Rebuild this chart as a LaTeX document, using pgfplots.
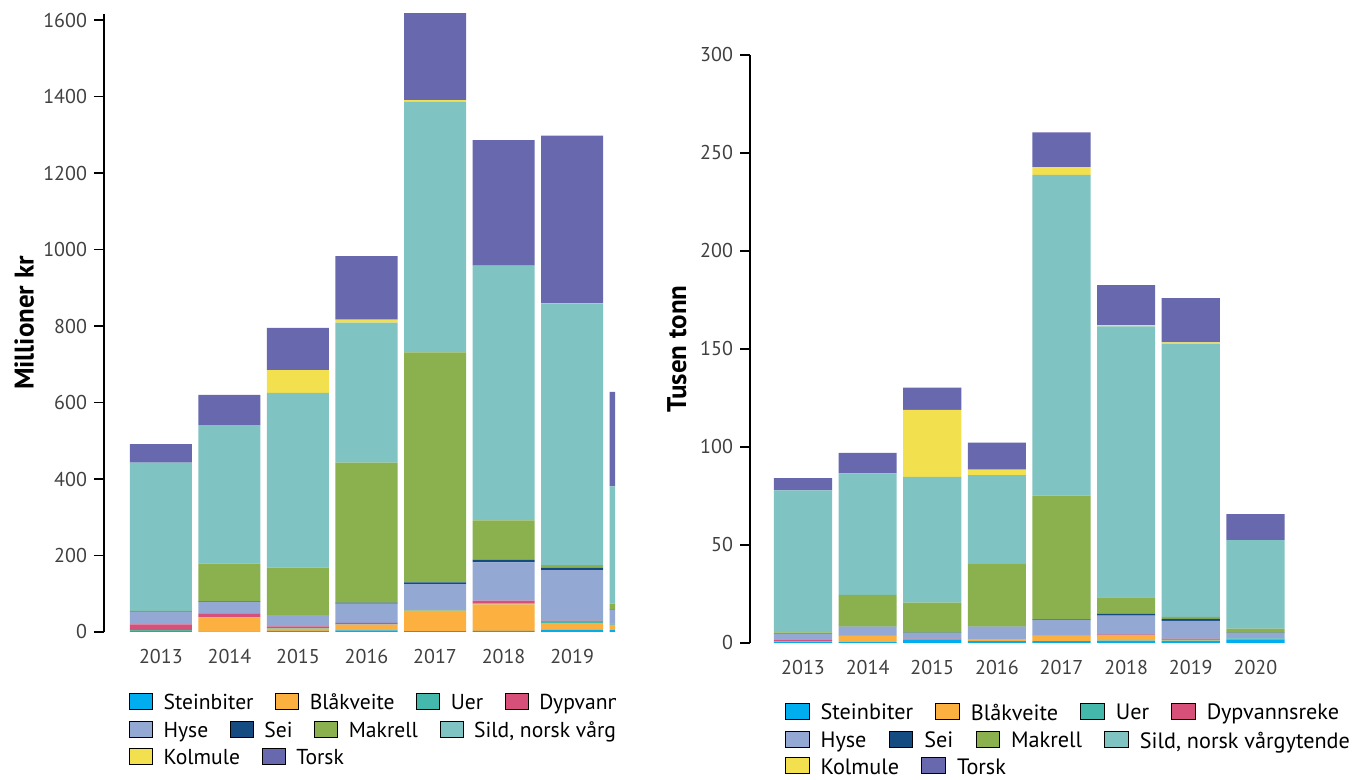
\documentclass[border=0pt]{standalone}
\usepackage{fontspec}
\setmainfont{PT Sans}
\usepackage{pgfplots}
\usepackage{pgfplotstable}
\pgfplotsset{compat=1.18}

\definecolor{cSt}{HTML}{00AEEF}
\definecolor{cBl}{HTML}{FBB040}
\definecolor{cUer}{HTML}{45B8AC}
\definecolor{cDyp}{HTML}{D6507A}
\definecolor{cHyse}{HTML}{93A9D3}
\definecolor{cSei}{HTML}{144B80}
\definecolor{cMak}{HTML}{8BB14E}
\definecolor{cSild}{HTML}{7FC4C2}
\definecolor{cKol}{HTML}{F2E04E}
\definecolor{cTorsk}{HTML}{6768AD}

% Millioner kr
\pgfplotstableread{
x St Bl Uer Dyp Hyse Sei Mak Sild Kol Torsk
0 2 1 2 15 32 1 2 388 0 48
1 1 37 1 10 30 1 99 362 0 79
2 3 6 1 5 29 0 124 457 60 110
3 4 15 1 4 50 3 366 366 8 166
4 2 54 1 0 68 5 601 655 5 249
5 3 69 3 7 100 7 103 666 0 328
6 6 16 7 1 132 6 7 684 1 438
7 5 13 2 2 35 1 16 307 0 247
}\verdi

% Tusen tonn
\pgfplotstableread{
x St Bl Uer Dyp Hyse Sei Mak Sild Kol Torsk
0 0.4 0.2 0.2 0.7 3.1 0.1 0.7 72.5 0 6.2
1 0.5 3.1 0.1 0.1 4.5 0.1 16.2 62.0 0 10.4
2 1.8 0.2 0.1 0.1 3.0 0.1 15.3 64.1 34.2 11.4
3 1.0 0.8 0.1 0.1 6.3 0.1 31.8 45.4 2.9 13.7
4 1.0 2.5 0.2 0 8.0 0.4 63.1 163.6 4.0 17.7
5 1.2 2.6 0.4 0.2 9.6 0.8 8.5 138.3 0.6 20.4
6 0.9 0.3 0.9 0.1 9.1 1.0 1.0 139.5 0.6 22.5
7 1.8 0.2 0.3 0 2.9 0.1 2.0 45.2 0 13.3
}\mengde

\pgfplotsset{
  mainax/.style={
    scale only axis, anchor=south west, ybar stacked, ymin=0,
    axis y line*=left, axis x line*=bottom,
    x axis line style={draw=none},
    y axis line style={line width=0.8pt, black},
    xtick={0,1,2,3,4,5,6,7},
    xticklabels={2013,2014,2015,2016,2017,2018,2019,2020},
    major x tick style={draw=none},
    tick align=outside, major tick length=5pt,
    ytick style={line width=0.8pt, black},
    ticklabel style={font=\fontsize{10}{12}\selectfont, text=black!75},
    /pgf/number format/assume math mode=true,
    /pgf/number format/1000 sep={},
    every axis plot/.append style={draw=none},
  },
  legax/.style={
    hide axis, scale only axis, width=10pt, height=10pt, anchor=west,
    xmin=0, xmax=1, ymin=0, ymax=1, legend columns=-1,
    legend style={at={(0,0.5)}, anchor=west, draw=none, fill=none,
      inner sep=0pt, outer sep=0pt, font=\fontsize{10.8}{13}\selectfont,
      nodes={inner sep=0pt, outer sep=0pt},
      /tikz/every even column/.append style={column sep=10.8pt},
      /tikz/every odd column/.append style={column sep=5.4pt}},
    legend image code/.code={\fill[##1] (0pt,-3pt) rectangle (11.5pt,5pt);},
  },
  legaxR/.style={
    legax,
    legend style={font=\fontsize{11.1}{13.3}\selectfont,
      /tikz/every even column/.append style={column sep=11.1pt},
      /tikz/every odd column/.append style={column sep=5.6pt}},
    legend image code/.code={\fill[##1] (0pt,-3pt) rectangle (11.8pt,5.2pt);},
  },
}

\begin{document}
\begin{tikzpicture}
\path[use as bounding box] (0pt,0pt) rectangle (682pt,390pt);

\begin{scope}
\clip (0pt,0pt) rectangle (307.5pt,390pt);
\begin{axis}[mainax, at={(52pt,74pt)}, width=256pt, height=309pt,
  xmin=-0.83, xmax=6.64, ymax=1616, bar width=0.905,
  ytick={0,200,400,600,800,1000,1200,1400,1600},
  ylabel={Millioner kr},
  ylabel style={at={(axis description cs:-0.156,0.5)}, anchor=center, font=\bfseries\fontsize{13.5}{16}\selectfont}]
\addplot[fill=cSt] table[x=x,y=St]{\verdi};
\addplot[fill=cBl] table[x=x,y=Bl]{\verdi};
\addplot[fill=cUer] table[x=x,y=Uer]{\verdi};
\addplot[fill=cDyp] table[x=x,y=Dyp]{\verdi};
\addplot[fill=cHyse] table[x=x,y=Hyse]{\verdi};
\addplot[fill=cSei] table[x=x,y=Sei]{\verdi};
\addplot[fill=cMak] table[x=x,y=Mak]{\verdi};
\addplot[fill=cSild] table[x=x,y=Sild]{\verdi};
\addplot[fill=cKol] table[x=x,y=Kol]{\verdi};
\addplot[fill=cTorsk] table[x=x,y=Torsk]{\verdi};
\end{axis}

\begin{axis}[legax, at={(64.5pt,38.5pt)}]
\addlegendimage{fill=cSt}\addlegendentry{Steinbiter}
\addlegendimage{fill=cBl}\addlegendentry{Blåkveite}
\addlegendimage{fill=cUer}\addlegendentry{Uer}
\addlegendimage{fill=cDyp}\addlegendentry{Dypvannsreke}
\end{axis}
\begin{axis}[legax, at={(64.5pt,24.5pt)}]
\addlegendimage{fill=cHyse}\addlegendentry{Hyse}
\addlegendimage{fill=cSei}\addlegendentry{Sei}
\addlegendimage{fill=cMak}\addlegendentry{Makrell}
\addlegendimage{fill=cSild}\addlegendentry{Sild, norsk vårgytende}
\end{axis}
\begin{axis}[legax, at={(64.5pt,11pt)}]
\addlegendimage{fill=cKol}\addlegendentry{Kolmule}
\addlegendimage{fill=cTorsk}\addlegendentry{Torsk}
\end{axis}
\end{scope}

\begin{axis}[mainax, at={(375pt,68.5pt)}, width=275pt, height=294pt,
  xmin=-0.82, xmax=7.69, ymax=300, bar width=0.9,
  ytick={0,50,100,150,200,250,300},
  ylabel={Tusen tonn},
  ylabel style={at={(axis description cs:-0.133,0.5)}, anchor=center, font=\bfseries\fontsize{13.5}{16}\selectfont}]
\addplot[fill=cSt] table[x=x,y=St]{\mengde};
\addplot[fill=cBl] table[x=x,y=Bl]{\mengde};
\addplot[fill=cUer] table[x=x,y=Uer]{\mengde};
\addplot[fill=cDyp] table[x=x,y=Dyp]{\mengde};
\addplot[fill=cHyse] table[x=x,y=Hyse]{\mengde};
\addplot[fill=cSei] table[x=x,y=Sei]{\mengde};
\addplot[fill=cMak] table[x=x,y=Mak]{\mengde};
\addplot[fill=cSild] table[x=x,y=Sild]{\mengde};
\addplot[fill=cKol] table[x=x,y=Kol]{\mengde};
\addplot[fill=cTorsk] table[x=x,y=Torsk]{\mengde};
\end{axis}

\begin{axis}[legaxR, at={(392.5pt,33.5pt)}]
\addlegendimage{fill=cSt}\addlegendentry{Steinbiter}
\addlegendimage{fill=cBl}\addlegendentry{Blåkveite}
\addlegendimage{fill=cUer}\addlegendentry{Uer}
\addlegendimage{fill=cDyp}\addlegendentry{Dypvannsreke}
\end{axis}
\begin{axis}[legaxR, at={(392.5pt,19.5pt)}]
\addlegendimage{fill=cHyse}\addlegendentry{Hyse}
\addlegendimage{fill=cSei}\addlegendentry{Sei}
\addlegendimage{fill=cMak}\addlegendentry{Makrell}
\addlegendimage{fill=cSild}\addlegendentry{Sild, norsk vårgytende}
\end{axis}
\begin{axis}[legaxR, at={(392.5pt,6.5pt)}]
\addlegendimage{fill=cKol}\addlegendentry{Kolmule}
\addlegendimage{fill=cTorsk}\addlegendentry{Torsk}
\end{axis}
\end{tikzpicture}
\end{document}
